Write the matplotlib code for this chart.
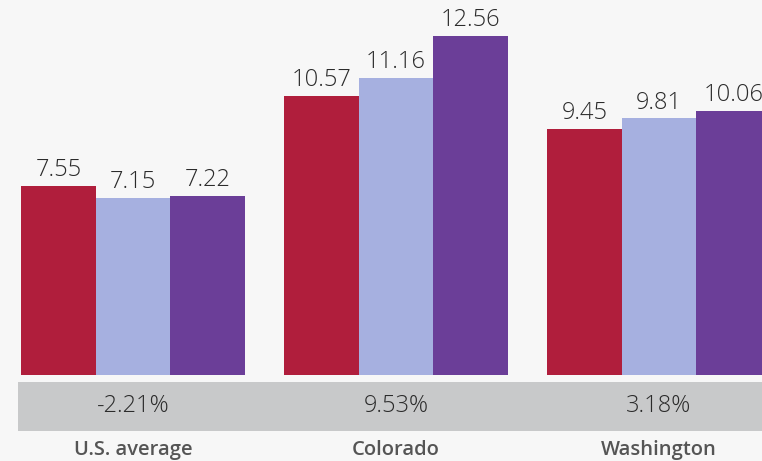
import numpy as np
import matplotlib
matplotlib.use("Agg")
import matplotlib.pyplot as plt
from matplotlib.transforms import blended_transform_factory

# data
places = ["U.S. average", "Colorado", "Washington"]
series_a = [7.55, 10.57, 9.45]
series_b = [7.15, 11.16, 9.81]
series_c = [7.22, 12.56, 10.06]
changes = ["-2.21%", "9.53%", "3.18%"]

colors = ["#B01E3C", "#A6B0E0", "#6B3E98"]
bg = "#F7F7F7"

plt.rcParams['font.family'] = ['Open Sans', 'DejaVu Sans']

fig = plt.figure(figsize=(7.62, 4.61), dpi=100, facecolor=bg)
ax = fig.add_axes([0, 0.1866, 1, 0.8134])
ax.set_facecolor(bg)

x = np.arange(len(places))
w = 0.284
for k, (vals, col) in enumerate(zip([series_a, series_b, series_c], colors)):
    pos = x + (k - 1) * w
    ax.bar(pos, vals, width=w, color=col, linewidth=0)
    for p, v in zip(pos, vals):
        ax.text(p, v + 0.12, "{:.2f}".format(v), ha="center", va="bottom",
                fontsize=17, fontweight="light", color="#2b2b2b", clip_on=False)

ax.set_xlim(-0.506, 2.392)
ax.set_ylim(1.236, 13.76)
ax.axis("off")

# grey band with the change percentages, category names below
tr = blended_transform_factory(ax.transData, fig.transFigure)
band = plt.Rectangle((-0.438, 0.0651), 4, 0.1063, transform=tr,
                     color="#C8C9CA", clip_on=False, linewidth=0, zorder=0)
ax.add_patch(band)
for xi, c, name in zip(x, changes, places):
    ax.text(xi, 0.119, c, transform=tr, ha="center", va="center",
            fontsize=17, fontweight="light", color="#2b2b2b", clip_on=False,
            zorder=5)
    ax.text(xi, 0.0125, name, transform=tr, ha="center", va="baseline",
            fontsize=14.5, fontweight="semibold", color="#555555", clip_on=False)

fig.savefig("out.png", dpi=100, facecolor=bg)
